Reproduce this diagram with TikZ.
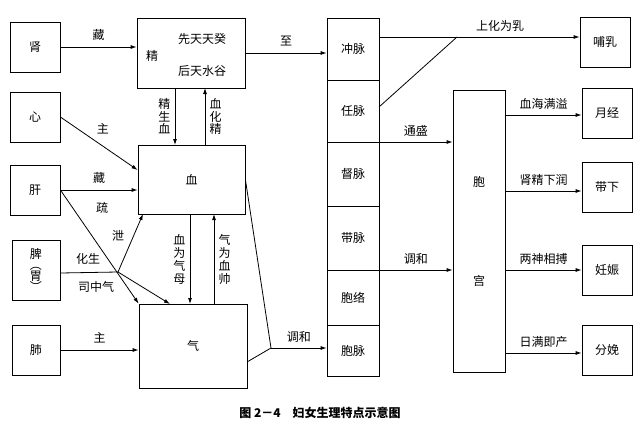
\documentclass[tikz,border=0pt]{standalone}
\usepackage{fontspec}
\setmainfont{Noto Sans CJK SC}
\usetikzlibrary{arrows.meta}
\begin{document}
\begin{tikzpicture}[x=1pt,y=-1pt,font=\fontsize{12}{14}\selectfont,
  ar/.style={-{Latex[length=6pt,width=4pt]},thick},
  ln/.style={thick}]
\useasboundingbox (0,0) rectangle (641,434);
% left boxes
\node[draw,thick,minimum width=50,minimum height=50] (shen) at (35,47) {肾};
\node[draw,thick,minimum width=50,minimum height=50] (xin) at (35,117) {心};
\node[draw,thick,minimum width=50,minimum height=50] (gan) at (35,190) {肝};
\node[draw,thick,minimum width=48,minimum height=60,align=center,inner sep=0pt,font=\fontsize{12}{11}\selectfont] (pi) at (36,270) {脾\\︵\\胃\\︶};
\node[draw,thick,minimum width=48,minimum height=50] (fei) at (36,350) {肺};
% center boxes
\node[draw,thick,minimum width=108,minimum height=70] (jing) at (191,53) {};
\node (jingt) at (152,56) {精};
\node (xt) at (202,39) {先天天癸};
\node (ht) at (202,71) {后天水谷};
\node[draw,thick,minimum width=107,minimum height=69] (xue) at (191.5,179.5) {血};
\node[draw,thick,minimum width=108,minimum height=84] (qi) at (193,346) {气};
% column
\foreach \n/\a/\b/\t in {chong/18/80/冲脉,ren/80/142/任脉,du/142/206/督脉,dai/206/270/带脉,bl/270/325/胞络,bm/325/376/胞脉}{
  \node[draw,thick,minimum width=52,minimum height={\b-\a}] (\n) at (353,{(\a+\b)/2}) {\t};}
\node[draw,thick,minimum width=52,minimum height=282,align=center] (bg) at (479,231) {胞\\[85pt]宫};
% right boxes
\node[draw,thick,minimum width=50,minimum height=50] (bu) at (605,42) {哺乳};
\node[draw,thick,minimum width=50,minimum height=50] (yj) at (607,113) {月经};
\node[draw,thick,minimum width=50,minimum height=50] (dx) at (607,187) {带下};
\node[draw,thick,minimum width=50,minimum height=50] (rs) at (607,270) {妊娠};
\node[draw,thick,minimum width=50,minimum height=50] (fm) at (607,350) {分娩};
% arrows left
\draw[ar] (shen.east) -- node[above=3pt]{藏} (jing.west|-shen.east);
\draw[ar] (xin.east) -- (xue.west|-0,170) node[pos=0.55,above=8pt]{主};
\draw[ar] (gan.east) -- node[above=3pt]{藏} (xue.west|-gan.east);
\draw[ar] (gan.east) -- (qi.north west);
\coordinate (j) at (118,272);
\draw[ln] (pi.east|-0,273) -- (j);
\draw[ar] (j) -- (143,214);
\draw[ar] (j) -- (170,304);
\node at (102,208) {疏};
\node at (118,236) {泄};
\node at (88,259) {化生};
\node at (96,287) {司中气};
\draw[ar] (fei.east) -- node[above=3pt]{主} (qi.west|-fei.east);
% vertical
\draw[ar] (175,88) -- node[left=1pt,align=center,font=\fontsize{12}{12.5}\selectfont]{精\\生\\血} (175,145);
\draw[ar] (205,145) -- node[right=1pt,align=center,font=\fontsize{12}{12.5}\selectfont]{血\\化\\精} (205,88);
\draw[ar] (190,214) -- node[left=1pt,align=center,font=\fontsize{12}{13}\selectfont]{血\\为\\气\\母} (190,304);
\draw[ar] (214,304) -- node[right=1pt,align=center,font=\fontsize{12}{13}\selectfont]{气\\为\\血\\帅} (214,214);
% to column
\draw[ar] (jing.east) -- node[above=3pt]{至} (chong.west|-jing.east);
\coordinate (m) at (271,348);
\draw[ln] (xue.east) -- (m);
\draw[ln] (247,362) -- (m);
\draw[ar] (m) -- node[above=2pt]{调和} (bm.west|-m);
% column to right
\draw[ar] (379,37) -- (bu.west|-0,37);
\node at (500,26) {上化为乳};
\draw[ln] (379,107) -- (457,37);
\draw[ar] (379,142) -- node[above=2pt]{通盛} (bg.west|-0,142);
\draw[ar] (379,270) -- node[above=2pt]{调和} (bg.west|-0,270);
\draw[ar] (bg.east|-0,115) -- node[above=2pt]{血海满溢} (yj.west|-0,115);
\draw[ar] (bg.east|-0,191) -- node[above=2pt]{肾精下润} (dx.west|-0,191);
\draw[ar] (bg.east|-0,270) -- node[above=2pt]{两神相搏} (rs.west|-0,270);
\draw[ar] (bg.east|-0,353) -- node[above=2pt]{日满即产} (fm.west|-0,353);
\node[font=\bfseries\fontsize{12}{14}\selectfont] (cap) at (320,413) {图 2－4\quad 妇女生理特点示意图};
\end{tikzpicture}
\end{document}
